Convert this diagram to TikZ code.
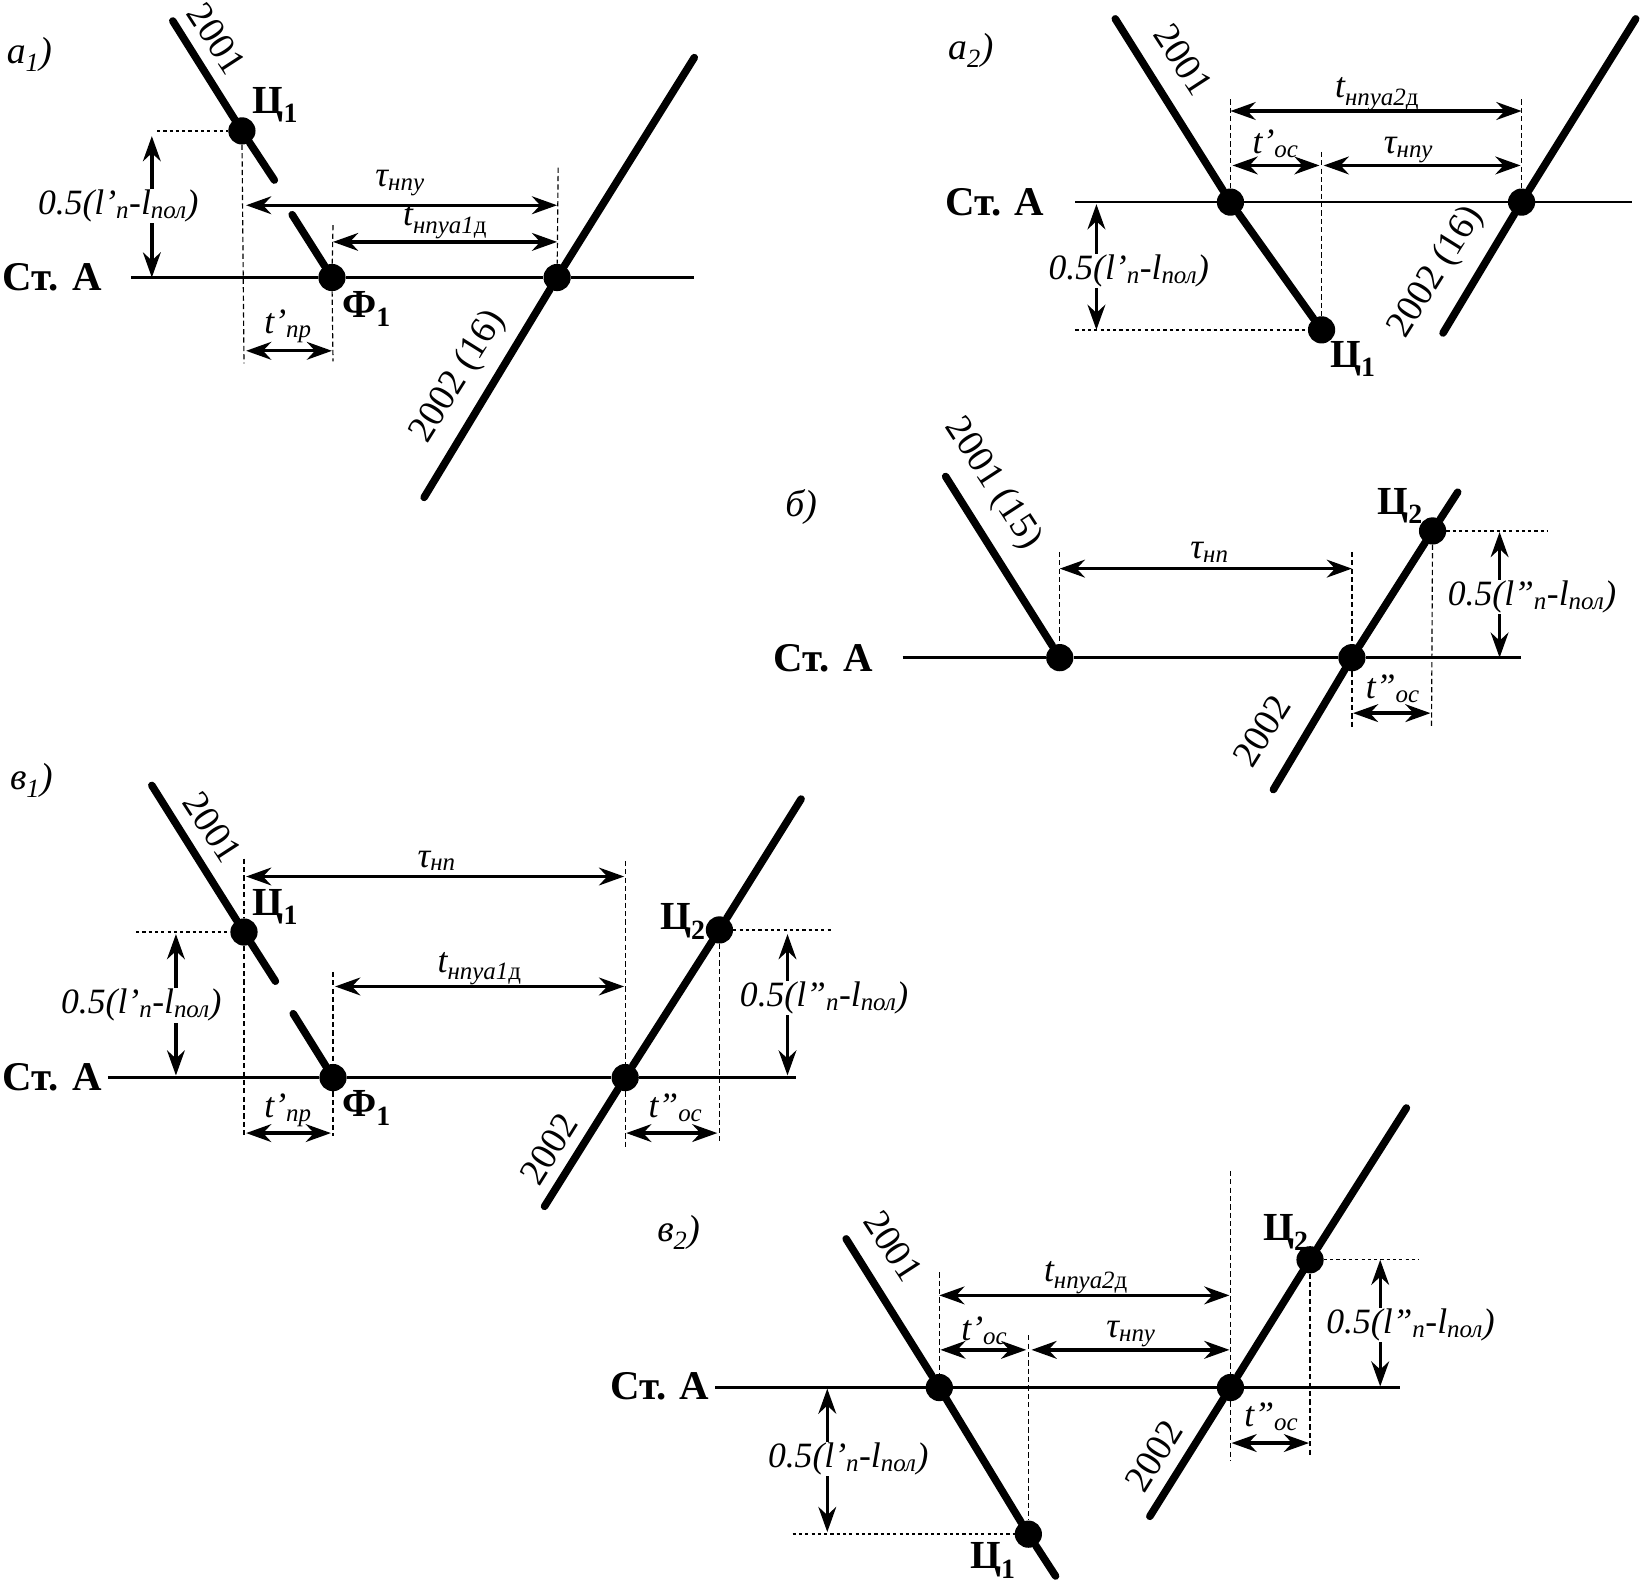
\documentclass[tikz,border=0pt]{standalone}
\usepackage{fontspec}
\setmainfont{Liberation Serif}
\usetikzlibrary{arrows.meta}
\tikzset{
  dot/.style={circle,fill=black,inner sep=0pt,minimum size=26pt},
  trainline/.style={line width=7.2pt,line cap=round},
  stline/.style={line width=2.4pt},
  guide/.style={line width=1.1pt,dash pattern=on 5pt off 3pt},
  guidedot/.style={line width=1.3pt,dash pattern=on 3pt off 3pt},
  dimarrow/.style={line width=3.2pt,{Stealth[length=24pt,width=17pt]}-{Stealth[length=24pt,width=17pt]}},
  stname/.style={font=\fontsize{39}{41}\selectfont\bfseries},
  trainno/.style={font=\fontsize{36}{38}\selectfont},
  pointname/.style={font=\fontsize{38}{40}\selectfont\bfseries},
  dimlabel/.style={font=\fontsize{34}{36}\selectfont\itshape,inner sep=1pt},
  halflabel/.style={font=\fontsize{34}{36}\selectfont\itshape,fill=white,inner sep=1pt},
  panelname/.style={font=\fontsize{36}{38}\selectfont\itshape}
}
\newcommand{\halfone}{0.5(l'\textsubscript{п}-l\textsubscript{пол})}
\newcommand{\halftwo}{0.5(l''\textsubscript{п}-l\textsubscript{пол})}
\begin{document}
\begin{tikzpicture}[x=1pt,y=-1pt]
\useasboundingbox (0,0) rectangle (1568,1512);

% a1
\node[dot] (aoneC) at (231,125) {};
\node[dot] (aoneF) at (317,265) {};
\node[dot] (aoneX) at (532,265) {};
\path (165,20) coordinate (aoneTop) (262,172) coordinate (aoneGapA) (279,205) coordinate (aoneGapB)
  (663,55) coordinate (aoneUp) (405,475) coordinate (aoneDown) (125,265) coordinate (aoneW) (663,265) coordinate (aoneE)
  (150,125) coordinate (aoneDotL) (233,347) coordinate (aoneCb) (318,345) coordinate (aoneFb) (318,215) coordinate (aoneFt)
  (533,160) coordinate (aoneXt) (235,196) coordinate (aoneTauL) (532,196) coordinate (aoneTauR)
  (318,231) coordinate (aoneTL) (532,231) coordinate (aoneTR) (235,335) coordinate (aonePrL) (317,335) coordinate (aonePrR)
  (145,130) coordinate (aoneHt) (145,265) coordinate (aoneHb);
\draw[trainline] (aoneTop) -- (aoneC) -- (aoneGapA);
\draw[trainline] (aoneGapB) -- (aoneF);
\draw[trainline] (aoneUp) -- (aoneX) -- (aoneDown);
\draw[stline] (aoneW) -- (aoneF) -- (aoneX) -- (aoneE);
\draw[guidedot] (aoneDotL) -- (aoneC);
\draw[guide] (aoneC) -- (aoneCb);
\draw[guide] (aoneFt) -- (aoneF) -- (aoneFb);
\draw[guide] (aoneXt) -- (aoneX);
\draw[dimarrow] (aoneTauL) -- (aoneTauR);
\draw[dimarrow] (aoneTL) -- (aoneTR);
\draw[dimarrow] (aonePrL) -- (aonePrR);
\draw[dimarrow] (aoneHt) -- (aoneHb);
\node[panelname] (aoneName) at (28,52) {а\textsubscript{1})};
\node[stname] (aoneSt) at (50,265) {Ст. А};
\node[trainno,rotate=-57] (aoneNa) at (207,37) {2001};
\node[trainno,rotate=58] (aoneNb) at (438,360) {2002 (16)};
\node[pointname] (aoneCn) at (263,100) {Ц\textsubscript{1}};
\node[pointname] (aoneFn) at (350,295) {Ф\textsubscript{1}};
\node[dimlabel] at (382,175) (aoneTaun) {τ\textsubscript{нпу}};
\node[dimlabel] at (425,212) (aoneTn) {t\textsubscript{нпуа1\textup{д}}};
\node[dimlabel] at (275,312) (aonePrn) {t'\textsubscript{пр}};
\node[halflabel] at (113,197) (aoneHn) {\halfone};

% a2
\node[dot] (atwoA) at (1175,193) {};
\node[dot] (atwoX) at (1453,193) {};
\node[dot] (atwoC) at (1262,315) {};
\path (1065,18) coordinate (atwoTop) (1562,18) coordinate (atwoUp) (1378,318) coordinate (atwoDown)
  (1027,193) coordinate (atwoW) (1558,193) coordinate (atwoE) (1175,95) coordinate (atwoAt) (1453,95) coordinate (atwoXt)
  (1262,145) coordinate (atwoCt) (1027,315) coordinate (atwoDotL) (1175,106) coordinate (atwoTL) (1453,106) coordinate (atwoTR)
  (1177,158) coordinate (atwoOsL) (1260,158) coordinate (atwoOsR) (1264,158) coordinate (atwoTauL) (1452,158) coordinate (atwoTauR)
  (1047,195) coordinate (atwoHt) (1047,315) coordinate (atwoHb);
\draw[trainline] (atwoTop) -- (atwoA) -- (atwoC);
\draw[trainline] (atwoUp) -- (atwoX) -- (atwoDown);
\draw[stline] (atwoW) -- (atwoA) -- (atwoX) -- (atwoE);
\draw[guide] (atwoAt) -- (atwoA);
\draw[guide] (atwoXt) -- (atwoX);
\draw[guide] (atwoCt) -- (atwoC);
\draw[guidedot] (atwoDotL) -- (atwoC);
\draw[dimarrow] (atwoTL) -- (atwoTR);
\draw[dimarrow] (atwoOsL) -- (atwoOsR);
\draw[dimarrow] (atwoTauL) -- (atwoTauR);
\draw[dimarrow] (atwoHt) -- (atwoHb);
\node[panelname] (atwoName) at (927,48) {а\textsubscript{2})};
\node[stname] (atwoSt) at (950,193) {Ст. А};
\node[trainno,rotate=-57] (atwoNa) at (1130,57) {2001};
\node[trainno,rotate=58] (atwoNb) at (1372,260) {2002 (16)};
\node[pointname] (atwoCn) at (1292,343) {Ц\textsubscript{1}};
\node[dimlabel] at (1315,90) (atwoTn) {t\textsubscript{нпуа2\textup{д}}};
\node[dimlabel] at (1218,137) (atwoOsn) {t'\textsubscript{ос}};
\node[dimlabel] at (1345,143) (atwoTaun) {τ\textsubscript{нпу}};
\node[halflabel] at (1078,259) (atwoHn) {\halfone};

% b
\node[dot] (bA) at (1012,628) {};
\node[dot] (bX) at (1291,628) {};
\node[dot] (bC) at (1368,507) {};
\path (903,455) coordinate (bTop) (1392,470) coordinate (bUp) (1216,754) coordinate (bDown)
  (862,628) coordinate (bW) (1452,628) coordinate (bE) (1012,527) coordinate (bAt) (1291,527) coordinate (bXt)
  (1291,695) coordinate (bXb) (1367,695) coordinate (bCb) (1478,507) coordinate (bDotR)
  (1012,543) coordinate (bTauL) (1291,543) coordinate (bTauR) (1432,508) coordinate (bHt) (1432,628) coordinate (bHb)
  (1292,681) coordinate (bOsL) (1366,681) coordinate (bOsR);
\draw[trainline] (bTop) -- (bA);
\draw[trainline] (bUp) -- (bC) -- (bX) -- (bDown);
\draw[stline] (bW) -- (bA) -- (bX) -- (bE);
\draw[guide] (bAt) -- (bA);
\draw[guide] (bXt) -- (bX) -- (bXb);
\draw[guide] (bC) -- (bCb);
\draw[guidedot] (bC) -- (bDotR);
\draw[dimarrow] (bTauL) -- (bTauR);
\draw[dimarrow] (bHt) -- (bHb);
\draw[dimarrow] (bOsL) -- (bOsR);
\node[panelname] (bName) at (765,484) {б)};
\node[stname] (bSt) at (786,629) {Ст. А};
\node[trainno,rotate=-57] (bNa) at (948,462) {2001 (15)};
\node[trainno,rotate=58] (bNb) at (1205,698) {2002};
\node[pointname] (bCn) at (1337,483) {Ц\textsubscript{2}};
\node[dimlabel] at (1155,527) (bTaun) {τ\textsubscript{нп}};
\node[dimlabel] at (1330,658) (bOsn) {t''\textsubscript{ос}};
\node[halflabel] at (1463,570) (bHn) {\halftwo};

% v1
\node[dot] (voneC) at (233,890) {};
\node[dot] (voneF) at (318,1029) {};
\node[dot] (voneX) at (597,1029) {};
\node[dot] (voneD) at (687,888) {};
\path (145,750) coordinate (voneTop) (263,937) coordinate (voneGapA) (280,968) coordinate (voneGapB)
  (765,763) coordinate (voneUp) (520,1152) coordinate (voneDown) (103,1029) coordinate (voneW) (760,1029) coordinate (voneE)
  (130,890) coordinate (voneDotL) (795,888) coordinate (voneDotR) (233,820) coordinate (voneCt) (233,1085) coordinate (voneCb)
  (318,928) coordinate (voneFt) (318,1085) coordinate (voneFb) (597,822) coordinate (voneXt) (597,1095) coordinate (voneXb)
  (687,1090) coordinate (voneDb) (235,837) coordinate (voneTauL) (596,837) coordinate (voneTauR)
  (320,942) coordinate (voneTL) (596,942) coordinate (voneTR) (235,1082) coordinate (vonePrL) (316,1082) coordinate (vonePrR)
  (598,1082) coordinate (voneOsL) (685,1082) coordinate (voneOsR) (168,892) coordinate (voneHt) (168,1027) coordinate (voneHb)
  (752,892) coordinate (voneIt) (752,1027) coordinate (voneIb);
\draw[trainline] (voneTop) -- (voneC) -- (voneGapA);
\draw[trainline] (voneGapB) -- (voneF);
\draw[trainline] (voneUp) -- (voneD) -- (voneX) -- (voneDown);
\draw[stline] (voneW) -- (voneF) -- (voneX) -- (voneE);
\draw[guidedot] (voneDotL) -- (voneC);
\draw[guidedot] (voneD) -- (voneDotR);
\draw[guide] (voneCt) -- (voneC) -- (voneCb);
\draw[guide] (voneFt) -- (voneF) -- (voneFb);
\draw[guide] (voneXt) -- (voneX) -- (voneXb);
\draw[guide] (voneD) -- (voneDb);
\draw[dimarrow] (voneTauL) -- (voneTauR);
\draw[dimarrow] (voneTL) -- (voneTR);
\draw[dimarrow] (vonePrL) -- (vonePrR);
\draw[dimarrow] (voneOsL) -- (voneOsR);
\draw[dimarrow] (voneHt) -- (voneHb);
\draw[dimarrow] (voneIt) -- (voneIb);
\node[panelname] (voneName) at (30,745) {в\textsubscript{1})};
\node[stname] (voneSt) at (50,1029) {Ст. А};
\node[trainno,rotate=-57] (voneNa) at (203,790) {2001};
\node[trainno,rotate=58] (voneNb) at (524,1097) {2002};
\node[pointname] (voneCn) at (263,866) {Ц\textsubscript{1}};
\node[pointname] (voneDn) at (652,880) {Ц\textsubscript{2}};
\node[pointname] (voneFn) at (350,1058) {Ф\textsubscript{1}};
\node[dimlabel] at (417,822) (voneTaun) {τ\textsubscript{нп}};
\node[dimlabel] at (458,925) (voneTn) {t\textsubscript{нпуа1\textup{д}}};
\node[dimlabel] at (275,1060) (vonePrn) {t'\textsubscript{пр}};
\node[dimlabel] at (645,1058) (voneOsn) {t''\textsubscript{ос}};
\node[halflabel] at (135,960) (voneHn) {\halfone};
\node[halflabel] at (787,953) (voneIn) {\halftwo};

% v2
\node[dot] (vtwoA) at (897,1325) {};
\node[dot] (vtwoX) at (1175,1325) {};
\node[dot] (vtwoD) at (1251,1203) {};
\node[dot] (vtwoC) at (982,1465) {};
\path (808,1183) coordinate (vtwoTop) (1008,1505) coordinate (vtwoBot) (1343,1058) coordinate (vtwoUp) (1098,1448) coordinate (vtwoDown)
  (683,1325) coordinate (vtwoW) (1337,1325) coordinate (vtwoE) (757,1465) coordinate (vtwoDotL) (1355,1203) coordinate (vtwoDotR)
  (897,1215) coordinate (vtwoAt) (1175,1118) coordinate (vtwoXt) (1175,1395) coordinate (vtwoXb) (982,1275) coordinate (vtwoCt)
  (1251,1392) coordinate (vtwoDb) (897,1237) coordinate (vtwoTL) (1174,1237) coordinate (vtwoTR)
  (898,1289) coordinate (vtwoOsL) (980,1289) coordinate (vtwoOsR) (985,1289) coordinate (vtwoTauL) (1174,1289) coordinate (vtwoTauR)
  (1176,1378) coordinate (vtwoOtL) (1250,1378) coordinate (vtwoOtR) (1318,1203) coordinate (vtwoIt) (1318,1324) coordinate (vtwoIb)
  (790,1326) coordinate (vtwoHt) (790,1463) coordinate (vtwoHb);
\draw[trainline] (vtwoTop) -- (vtwoA) -- (vtwoC) -- (vtwoBot);
\draw[trainline] (vtwoUp) -- (vtwoD) -- (vtwoX) -- (vtwoDown);
\draw[stline] (vtwoW) -- (vtwoA) -- (vtwoX) -- (vtwoE);
\draw[guidedot] (vtwoDotL) -- (vtwoC);
\draw[guidedot] (vtwoD) -- (vtwoDotR);
\draw[guide] (vtwoAt) -- (vtwoA);
\draw[guide] (vtwoXt) -- (vtwoX) -- (vtwoXb);
\draw[guide] (vtwoCt) -- (vtwoC);
\draw[guide] (vtwoD) -- (vtwoDb);
\draw[dimarrow] (vtwoTL) -- (vtwoTR);
\draw[dimarrow] (vtwoOsL) -- (vtwoOsR);
\draw[dimarrow] (vtwoTauL) -- (vtwoTauR);
\draw[dimarrow] (vtwoOtL) -- (vtwoOtR);
\draw[dimarrow] (vtwoIt) -- (vtwoIb);
\draw[dimarrow] (vtwoHt) -- (vtwoHb);
\node[panelname] (vtwoName) at (648,1177) {в\textsubscript{2})};
\node[stname] (vtwoSt) at (630,1324) {Ст. А};
\node[trainno,rotate=-57] (vtwoNa) at (853,1190) {2001};
\node[trainno,rotate=58] (vtwoNb) at (1102,1390) {2002};
\node[pointname] (vtwoDn) at (1228,1177) {Ц\textsubscript{2}};
\node[pointname] (vtwoCn) at (948,1490) {Ц\textsubscript{1}};
\node[dimlabel] at (1037,1220) (vtwoTn) {t\textsubscript{нпуа2\textup{д}}};
\node[dimlabel] at (940,1271) (vtwoOsn) {t'\textsubscript{ос}};
\node[dimlabel] at (1080,1274) (vtwoTaun) {τ\textsubscript{нпу}};
\node[dimlabel] at (1214,1353) (vtwoOtn) {t''\textsubscript{ос}};
\node[halflabel] at (1347,1265) (vtwoIn) {\halftwo};
\node[halflabel] at (810,1393) (vtwoHn) {\halfone};
\end{tikzpicture}
\end{document}
